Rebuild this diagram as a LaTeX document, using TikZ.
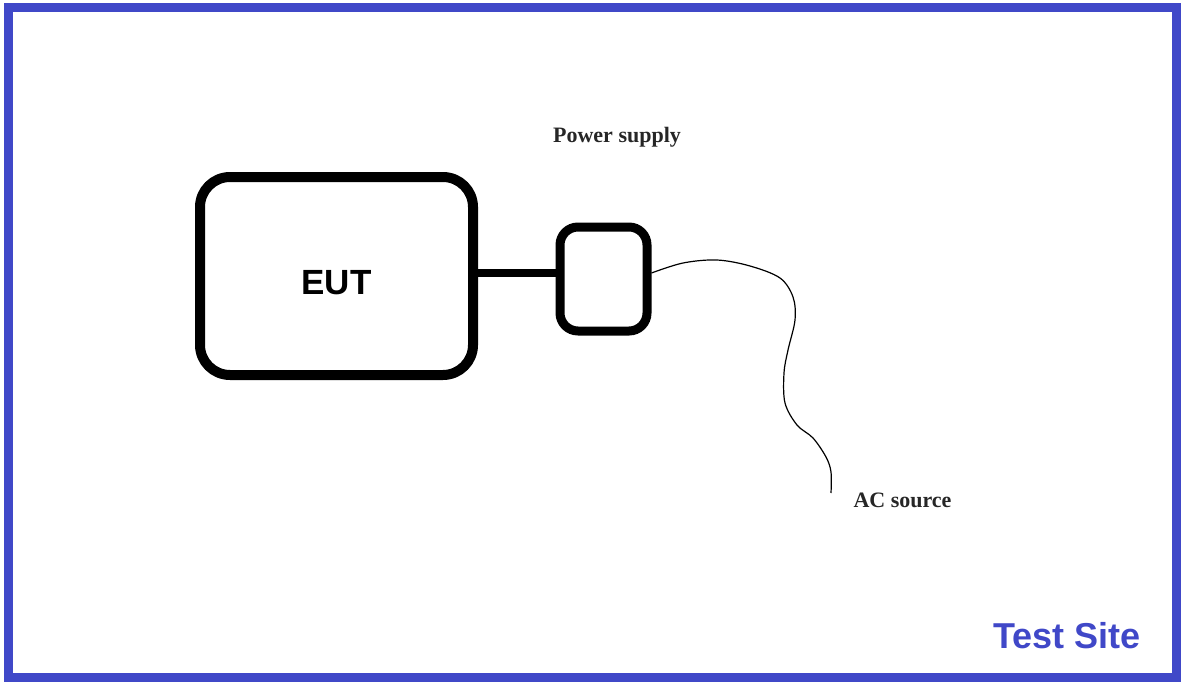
\documentclass[tikz,border=0pt]{standalone}
\usepackage{fontspec}
\setmainfont{Liberation Serif}
\newfontfamily\labelsans{Liberation Sans}
\usetikzlibrary{positioning,calc}
\usepackage{xcolor}
\definecolor{siteblue}{HTML}{4048C8}

\begin{document}
\begin{tikzpicture}[
  x=1pt, y=-1pt,
  unit/.style={draw=black, line width=10pt, rounded corners=30pt, minimum width=273pt, minimum height=198pt, text height=37pt, text depth=0pt, font=\labelsans\fontsize{35}{40}\selectfont\bfseries},
  psbox/.style={draw=black, line width=9pt, rounded corners=18pt, minimum width=87pt, minimum height=104pt},
  tag/.style={font=\fontsize{22}{26}\selectfont\bfseries, text=black!85},
  link/.style={line width=8pt},
  wire/.style={line width=1.2pt}
]
\useasboundingbox (0,0) rectangle (1183,682);
\draw[siteblue, line width=9pt] (8,8) rectangle (1176,677);

\node[unit] (eut) at (336.5,276) {EUT};
\node[psbox] (ps) at (603.5,279) {};
\node[tag] (pslabel) at (617,137) {Power supply};
\coordinate (acend) at (831,493);
\node[tag, anchor=west] (aclabel) at (850,500) {AC source};
\node[font=\labelsans\fontsize{36}{42}\selectfont\bfseries, text=siteblue] (site) at (1067,636) {Test Site};

\draw[link] ([yshift=3pt]eut.east) -- ([yshift=3pt]eut.east -| ps.west);
\draw[wire] plot[smooth, tension=0.55] coordinates {([yshift=6pt]ps.east) (683,263) (717,260) (750,266) (780,278) (793,297) (795,320) (788,350) (784,373) (785,403) (797,425) (813,438) (826,457) (831,472) (acend)};
\end{tikzpicture}
\end{document}
